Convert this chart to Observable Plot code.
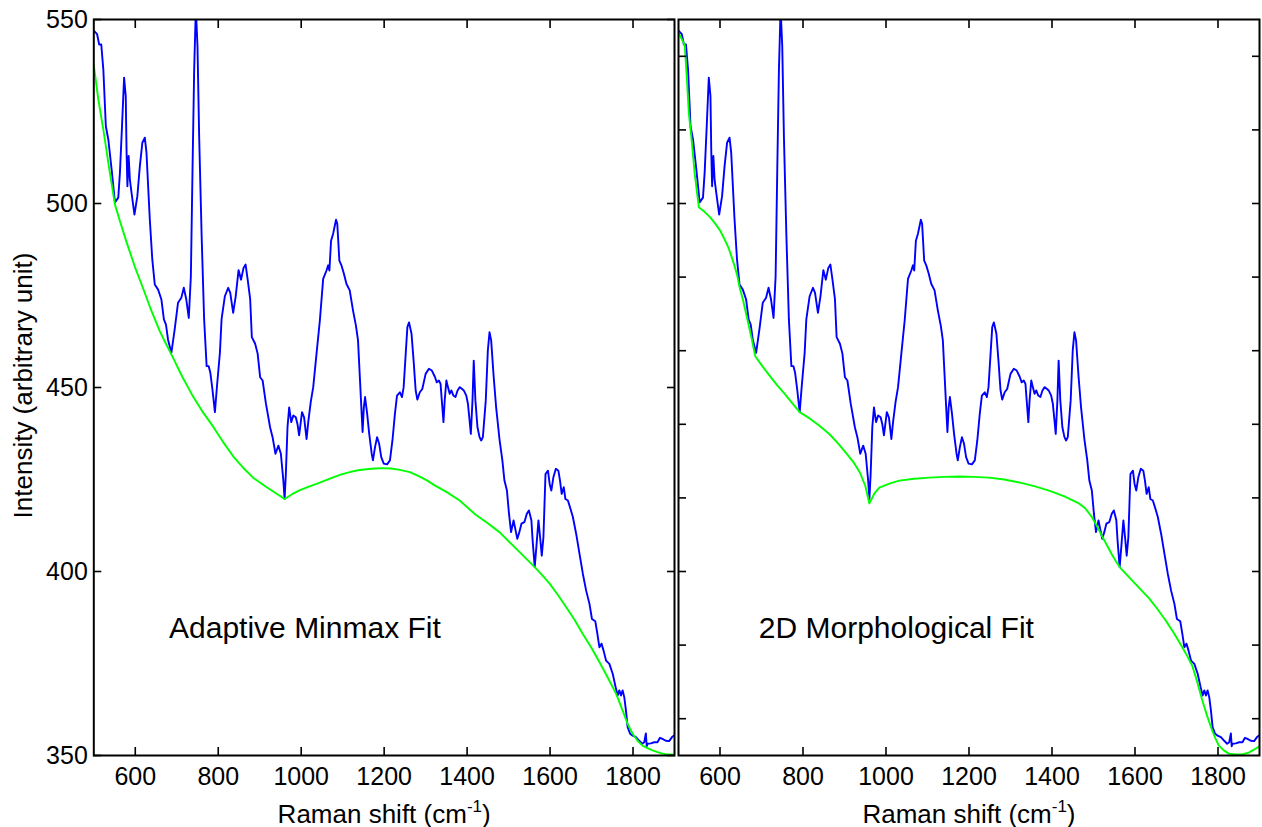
<!DOCTYPE html>
<html><head><meta charset="utf-8">
<script src="https://cdn.jsdelivr.net/npm/d3@7"></script>
<script src="https://cdn.jsdelivr.net/npm/@observablehq/plot@0.6"></script>
<style>
html,body{margin:0;padding:0;background:#fff;}
#chart{display:flex;width:1262px;height:827px;overflow:hidden;}
#chart svg{display:block;}
</style></head><body><div id="chart"></div>
<script>
// Raman spectrum (blue)
const ramanShift = [500,508,513,518,523,529,535,543,551,559,563,568,573,577,579,581,584,587,591,598,605,611,617,623,627,635,641,647,655,663,669,674,679,687,695,703,711,717,723,729,734,738,742,746,750,754,760,766,772,777,781,786,792,797,804,808,816,824,829,836,842,849,855,861,866,871,877,881,889,895,901,907,915,925,931,938,945,951,957,960,963,967,971,976,981,987,991,995,1002,1007,1013,1017,1023,1029,1037,1045,1053,1061,1065,1068,1072,1077,1084,1087,1092,1097,1103,1109,1117,1125,1132,1137,1141,1145,1148,1151,1154,1159,1164,1170,1173,1178,1183,1188,1193,1199,1207,1214,1220,1226,1231,1238,1243,1247,1252,1256,1260,1266,1271,1276,1280,1286,1292,1300,1308,1315,1322,1327,1332,1336,1339,1343,1346,1350,1353,1358,1362,1367,1372,1377,1382,1388,1392,1398,1402,1406,1409,1413,1416,1420,1425,1430,1434,1438,1445,1450,1454,1458,1464,1470,1478,1485,1490,1496,1501,1506,1512,1517,1521,1526,1531,1538,1544,1549,1555,1558,1563,1567,1572,1576,1580,1584,1589,1595,1599,1603,1608,1614,1620,1624,1628,1633,1637,1643,1648,1655,1663,1671,1679,1687,1695,1701,1709,1714,1719,1724,1729,1735,1743,1751,1758,1763,1767,1771,1775,1779,1783,1787,1793,1799,1807,1815,1822,1827,1831,1833,1835,1843,1851,1859,1865,1871,1879,1887,1894,1900];
const intensity = [547,546,543.2,543.2,536.4,521,517.4,509.2,500.3,501.6,508.4,521,534.2,529.2,513.9,504.7,512.9,506.5,502.9,497,502,510.1,516.5,517.9,513.8,495.7,484.8,478,476.6,473.9,468.5,467.1,463,459.4,465.8,473,474.4,477.1,473.9,468.9,480.2,509.2,536.4,553,542.7,518.3,491.1,468.5,455.8,455.8,454,449.5,443.3,450.4,459.4,468.5,474.8,477.1,475.7,470.3,474.7,481.9,479.3,482.5,483.4,479.3,474,463.7,461.9,459.2,452.8,451.9,445.6,439.2,436.5,432,434.2,432,424.7,419.7,426.5,439.2,444.6,440.6,442.4,441.9,440.1,437,443.3,441.9,436,440.6,446,450.1,459.2,468.2,479.5,481.8,483.2,481.8,489.9,491.8,495.6,494.5,484.5,483.2,480.9,478.2,476.4,470.9,466.8,462.8,453.7,444.6,437.9,444.6,447.4,442.9,437.4,432,430.2,433.8,436.5,434.7,431.1,429.3,429.1,430.2,435.6,442.9,447.8,448.7,447.4,450.1,459.2,466.4,467.7,464.6,457.3,449.2,446.7,448.7,449.6,453.7,455.1,454.6,453,451.4,451.9,451,446.5,440.6,446.5,451.9,450.5,448.3,449.2,447.8,447.4,449.2,450.1,449.6,449.2,447.8,445.6,441,437.4,446.5,457.3,446.5,439.2,436.5,435.6,436.5,446.5,460.1,465,462.8,453,444.6,436,430.2,424.7,422,415.7,410.7,413.9,411.1,408.9,410.7,413,413.4,415.7,416.6,413.9,408.4,401.2,406.7,413.9,409.3,404.3,409.3,426.5,427.4,423.8,422,425.6,427.9,427.4,424.7,421.1,422.9,419.7,419.3,417.5,414.8,410.2,404.8,399.4,394.8,391.2,387.1,386.5,383.1,379.4,380.4,378.5,375.8,374.9,372.2,368.6,366.3,367.7,366.3,367.7,365.8,362.2,357.7,355.9,355.4,355,354,353.2,353.6,356,352.5,353.2,353.3,353.6,353.6,354.8,354.5,354,353.9,355,355.5];

// Adaptive minmax baseline (green, left panel)
const minmaxShift = [500,511,523,537,551,565,579,599,619,639,659,673,687,713,739,763,787,811,836,860,884,917,940,960,978,997,1017,1037,1057,1077,1097,1117,1137,1157,1177,1197,1217,1238,1262,1286,1304,1322,1352,1382,1420,1449,1478,1520,1563,1581,1599,1619,1639,1659,1679,1699,1719,1739,1759,1773,1787,1799,1811,1823,1835,1847,1859,1871,1882,1892,1900];
const minmaxBaseline = [537.5,528.2,520.1,509.6,499.7,494.5,489.5,482.8,476.9,470.8,465.3,462.1,459,453,447.6,443.3,439.5,435.3,431.3,428.2,425.5,422.9,421.2,419.7,421,422.1,423,423.8,424.7,425.6,426.4,427,427.5,427.8,428,428.1,428,427.6,427,425.8,424.7,423.4,421.5,419.3,415.5,413.2,410.7,406,401.2,399,396.7,393.6,390.3,386.9,383,379.4,375.4,371.2,366.8,362.8,358.6,355.9,354,352.7,352,351.4,350.9,350.5,350.3,350.3,350.2];

// 2D morphological baseline (green, right panel)
const morphShift = [500,515,520,525,531,539,549,562,576,588,600,610,620,628,636,642,647,655,665,675,685,702,719,737,755,773,792,816,839,864,887,906,923,937,950,960,972,984,1008,1032,1068,1104,1140,1176,1212,1248,1285,1321,1357,1393,1430,1465,1480,1496,1510,1521,1533,1545,1554,1563,1598,1634,1654,1674,1694,1714,1726,1738,1750,1762,1774,1786,1794,1802,1814,1826,1842,1858,1874,1890,1900];
const morphBaseline = [546.5,543,534.3,524.4,518,508.1,499,497.8,496.3,494.6,492.7,490.5,488.1,485.5,482.7,480.2,477.3,474,469,464,458.5,455.8,453.3,450.7,448.4,445.9,443.3,441.6,439.7,437.3,434.5,431.9,429.5,426.9,423.3,418.5,421.2,422.8,423.9,424.7,425.2,425.5,425.7,425.8,425.7,425.5,425,424.2,423.2,422,420.4,418.5,417.2,414.8,412,409.5,407,404.5,402.8,401.2,397,392.7,389.8,386.7,383.2,379.4,377,374.4,370,365,360.7,356.8,354.6,352.7,351.4,350.5,350.3,350.3,350.8,351.8,352.5];

const xTicks = [600,800,1000,1200,1400,1600,1800];
const yTicksLeft = [350,400,450,500,550];
const yTicksRight = [360,380,400,420,440,460,480,500,520,540];
const panelTitles = ["Adaptive Minmax Fit", "2D Morphological Fit"];
const titleX = [1009, 1025];
const titleY = [384.6, 384.6];
const xLabel = "Raman shift (cm-1)";
const yLabel = "Intensity (arbitrary unit)";

const FONT = "'Liberation Sans', Arial, Helvetica, sans-serif";

function panel({width, marginLeft, marginRight, bx, by, title, tx, ty, yTicks, yLabels}) {
  const marks = [
    Plot.line(intensity, {x: ramanShift, y: intensity, stroke: "#0000ff", strokeWidth: 1.9, clip: true}),
    Plot.line(by, {x: bx, y: by, stroke: "#00ff00", strokeWidth: 1.9, clip: true}),
    Plot.frame({stroke: "black", strokeWidth: 2}),
    Plot.axisX(xTicks, {anchor: "bottom", tickSize: -8, strokeWidth: 1.6, tickFormat: () => "", label: null}),
    Plot.axisX(xTicks, {anchor: "top", tickSize: -8, strokeWidth: 1.6, tickFormat: () => "", label: null}),
    Plot.axisX(xTicks, {anchor: "bottom", tickSize: 0, tickPadding: 12, fontSize: 25, tickFormat: d => String(d), label: null}),
    Plot.axisY(yTicks, {anchor: "left", tickSize: -8, strokeWidth: 1.6, tickFormat: () => "", label: null}),
    Plot.axisY(yTicks, {anchor: "right", tickSize: -8, strokeWidth: 1.6, tickFormat: () => "", label: null}),
    Plot.text([title], {x: [tx], y: [ty], text: d => d, fontSize: 30, textAnchor: "middle", lineAnchor: "middle"}),
    Plot.text([xLabel], {frameAnchor: "bottom", dy: 67, textAnchor: "middle", lineAnchor: "bottom", fontSize: 26, text: d => d})
  ];
  if (yLabels) {
    marks.push(Plot.axisY(yTicks, {anchor: "left", tickSize: 0, tickPadding: 6, fontSize: 25, tickFormat: d => String(d), label: null}));
    marks.push(Plot.text([yLabel], {frameAnchor: "left", dx: -62, dy: -2, rotate: -90, textAnchor: "middle", lineAnchor: "bottom", fontSize: 26, text: d => d}));
  }
  return Plot.plot({
    width, height: 827,
    marginLeft, marginRight, marginTop: 19, marginBottom: 72,
    x: {domain: [500, 1900]},
    y: {domain: [350, 550]},
    style: {fontFamily: FONT, fontSize: "24px", color: "black", background: "white", overflow: "visible"},
    marks
  });
}

const left = panel({width: 676, marginLeft: 93.3, marginRight: 2, bx: minmaxShift, by: minmaxBaseline, title: panelTitles[0], tx: titleX[0], ty: titleY[0], yTicks: yTicksLeft, yLabels: true});
const right = panel({width: 586, marginLeft: 2, marginRight: 3, bx: morphShift, by: morphBaseline, title: panelTitles[1], tx: titleX[1], ty: titleY[1], yTicks: yTicksRight, yLabels: false});

function superscript(svg) {
  d3.select(svg).selectAll("text").each(function() {
    if (this.textContent === xLabel && this.querySelectorAll("tspan").length <= 1) {
      const t = d3.select(this);
      const host = this.querySelector("tspan") ? d3.select(this.querySelector("tspan")) : t;
      host.text(null);
      host.append("tspan").text("Raman shift (cm");
      host.append("tspan").attr("dy", -11).attr("font-size", 17).text("-1");
      host.append("tspan").attr("dy", 11).text(")");
    }
  });
}
superscript(left); superscript(right);
document.getElementById("chart").append(left, right);
</script></body></html>
